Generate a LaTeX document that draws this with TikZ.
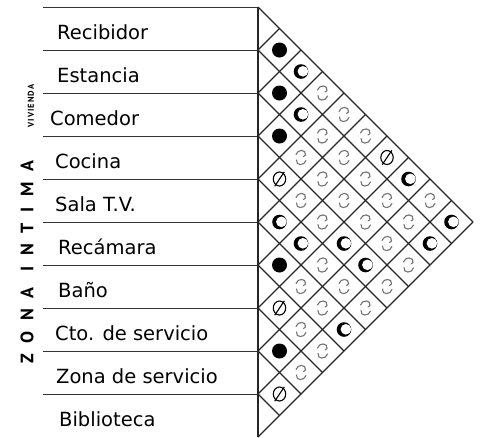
\documentclass[tikz,border=0pt]{standalone}
\usepackage{fontspec}
\setmainfont{PT Sans}
\newfontfamily\lblfont{DejaVu Sans}
\begin{document}
\begin{tikzpicture}[x=1pt,y=-1pt,
  gridline/.style={line width=1.1pt, black!85},
  rowline/.style={line width=0.9pt, black!80},
  lbl/.style={anchor=base west, font=\lblfont\fontsize{19.5}{19.5}\selectfont, inner sep=0pt},
  symF/.pic={\fill[black] (0,0) circle (7.5);},
  symH/.pic={\fill[black] (0,0) circle (7.3); \fill[white] (1.9,-0.2) circle (5.3);},
  symZ/.pic={\draw[line width=1.1pt] (0,0) ellipse (6.2 and 7);
             \draw[line width=1.1pt] (-4.8,7.2) -- (4.8,-7.2);},
  symS/.pic={\draw[black!55, line width=1.1pt, line cap=round]
               (-5,-3) .. controls (-3.5,-8.5) and (5.5,-8.5) .. (4.5,-2.5)
               (-4.5,2.5) .. controls (-5.5,8.5) and (3.5,8.5) .. (5,3)
               (4.5,-2.5) -- (2.5,-1);}
]
\useasboundingbox (0,0) rectangle (481,437);
% row separators
\foreach \k in {0,...,9}{
  \draw[rowline] (43,{7+43*\k}) -- (258,{7+43*\k});
}
\draw[gridline] (258,7) -- (258,437);
% diagonal grid
\foreach \k in {0,...,10}{
  \pgfmathsetmacro\yk{7+43*\k}
  \pgfmathsetmacro\dd{(437-\yk)/2}
  \pgfmathsetmacro\du{(\yk-7)/2}
  \draw[gridline] (258,\yk) -- ({258+\dd},{\yk+\dd});
  \draw[gridline] (258,\yk) -- ({258+\du},{\yk-\du});
}
% symbols
\foreach \i/\j in {1/2,2/3,3/4,6/7,8/9}{
  \pic at ({258+21.5*(\j-\i)},{7+21.5*(\i+\j-1)}) {symF};
}
\foreach \i/\j in {4/5,7/8,9/10,1/7}{
  \pic at ({258+21.5*(\j-\i)},{7+21.5*(\i+\j-1)}) {symZ};
}
\foreach \i/\j in {5/6,1/3,2/4,5/7,4/8,6/10,4/9,1/8,2/10,1/10}{
  \pic at ({258+21.5*(\j-\i)},{7+21.5*(\i+\j-1)}) {symH};
}
\foreach \i/\j in {3/5,4/6,6/8,7/9,8/10,1/4,2/5,3/6,4/7,5/8,6/9,7/10,1/5,2/6,3/7,5/9,1/6,2/7,3/8,5/10,2/8,3/9,4/10,2/9,3/10,1/9}{
  \pic at ({258+21.5*(\j-\i)},{7+21.5*(\i+\j-1)}) {symS};
}
% row labels
\node[lbl] (r1) at (57,{28.5+11}) {Recibidor};
\node[lbl] (r2) at (57,{71.5+11}) {Estancia};
\node[lbl] (r3) at (50,{114.5+11}) {Comedor};
\node[lbl] (r4) at (55,{157.5+11}) {Cocina};
\node[lbl] (r5) at (55,{200.5+11}) {Sala T.V.};
\node[lbl] (r6) at (58,{243.5+11}) {Recámara};
\node[lbl] (r7) at (58,{286.5+11}) {Baño};
\node[lbl] (r8) at (55,{329.5+11}) {Cto. de servicio};
\node[lbl] (r9) at (56,{372.5+11}) {Zona de servicio};
\node[lbl] (r10) at (59,{415.5+11}) {Biblioteca};
% side labels
\node[rotate=90, inner sep=0pt, font=\fontsize{18}{18}\bfseries\addfontfeature{LetterSpace=60}] (zona) at (27,262) {ZONA INTIMA};
\node[rotate=90, inner sep=0pt, font=\fontsize{8.5}{8.5}\bfseries\addfontfeature{LetterSpace=12}] (viv) at (31,106) {VIVIENDA};
\end{tikzpicture}
\end{document}
